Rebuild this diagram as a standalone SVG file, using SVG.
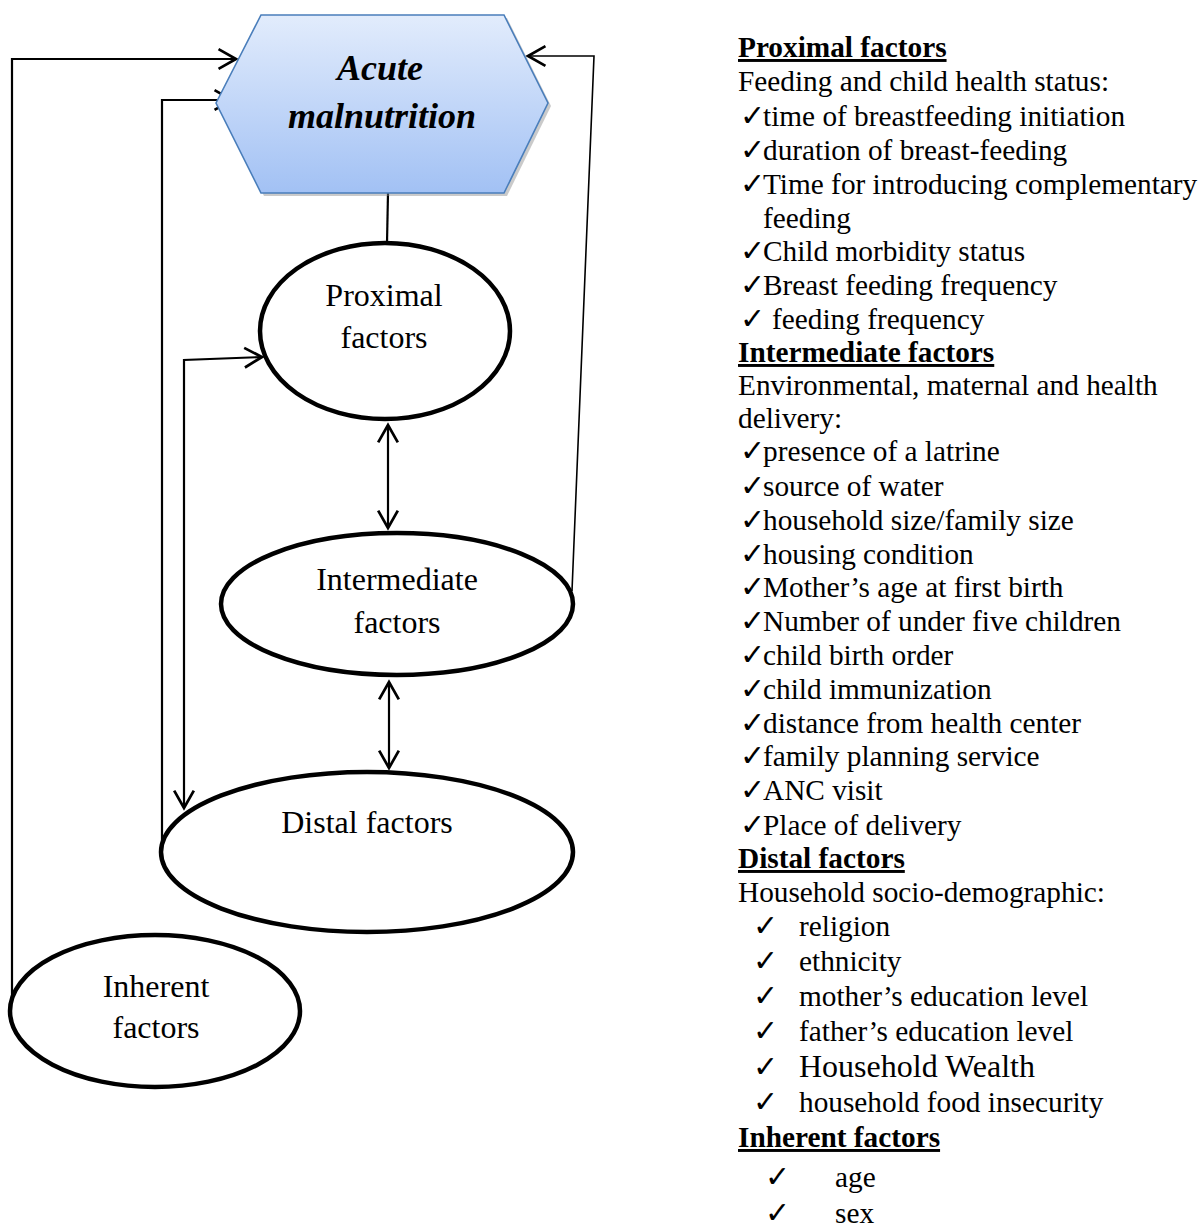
<svg xmlns="http://www.w3.org/2000/svg" width="1201" height="1229" viewBox="0 0 1201 1229">
<style>
.node{fill:#fff;stroke:#000;stroke-width:4.5}
.lbl{font-family:"Liberation Serif","Times New Roman",serif;font-size:32px;fill:#000;text-anchor:middle}
.hex{font-family:"Liberation Serif","Times New Roman",serif;font-size:36px;font-weight:bold;font-style:italic;fill:#000;text-anchor:middle}
.con{fill:none;stroke:#000;stroke-width:2.2}
.t{font-family:"Liberation Serif","Times New Roman",serif;font-size:29.3px;fill:#000}
.h{font-family:"Liberation Serif","Times New Roman",serif;font-size:29.3px;font-weight:bold;fill:#000;text-decoration:underline}
.ck{font-family:"DejaVu Sans",sans-serif;font-size:30px;fill:#000}
</style>
<defs>
<linearGradient id="hg" x1="0" y1="0" x2="0" y2="1">
<stop offset="0" stop-color="#e2ecfc"/>
<stop offset="1" stop-color="#a2c1f4"/>
</linearGradient>
<marker id="ah" markerUnits="userSpaceOnUse" markerWidth="24" markerHeight="24" viewBox="-18 -11 20 22" refX="0" refY="0" orient="auto-start-reverse">
<path d="M-16,-9 L0,0 L-16,9" fill="none" stroke="#000" stroke-width="2.5"/>
</marker>
</defs>
<g id="connectors">
<polyline class="con" points="12,998 12,59 236,59" marker-end="url(#ah)"/>
<polyline class="con" points="162,840 162,100 232,100" marker-end="url(#ah)"/>
<polyline class="con" points="184,808 184,360 262,357" marker-start="url(#ah)" marker-end="url(#ah)"/>
<polyline class="con" style="stroke-width:1.6" points="572,591 594,56 528,56" marker-end="url(#ah)"/>
<line class="con" x1="388" y1="193" x2="387" y2="243"/>
<line class="con" x1="388" y1="425" x2="388" y2="528" marker-start="url(#ah)" marker-end="url(#ah)"/>
<line class="con" x1="389" y1="682" x2="389" y2="768" marker-start="url(#ah)" marker-end="url(#ah)"/>
</g>
<g id="acute-malnutrition">
<polygon points="219,106 264,18 507,18 551,106 507,196 264,196" fill="#8a8a8a" opacity="0.45"/>
<polygon points="216,103 261,15 504,15 548,103 504,193 261,193" fill="url(#hg)" stroke="#4a7ebb" stroke-width="1.6"/>
<text class="hex" x="380" y="80">Acute</text>
<text class="hex" x="382" y="128">malnutrition</text>
</g>
<g id="proximal">
<ellipse class="node" cx="385" cy="331" rx="125" ry="88"/>
<text class="lbl" x="384" y="306">Proximal</text>
<text class="lbl" x="384" y="348">factors</text>
</g>
<g id="intermediate">
<ellipse class="node" cx="397" cy="604" rx="176" ry="71"/>
<text class="lbl" x="397" y="590">Intermediate</text>
<text class="lbl" x="397" y="633">factors</text>
</g>
<g id="distal">
<ellipse class="node" cx="367" cy="852" rx="206" ry="80"/>
<text class="lbl" x="367" y="833">Distal factors</text>
</g>
<g id="inherent">
<ellipse class="node" cx="155" cy="1011" rx="145" ry="76"/>
<text class="lbl" x="156" y="997">Inherent</text>
<text class="lbl" x="156" y="1038">factors</text>
</g>
<g id="factor-list">
<text class="h" x="738" y="57">Proximal factors</text>
<text class="t" x="738" y="91">Feeding and child health status:</text>
<text class="ck" x="740" y="126">✓</text><text class="t" x="763" y="126">time of breastfeeding initiation</text>
<text class="ck" x="740" y="160">✓</text><text class="t" x="763" y="160">duration of breast-feeding</text>
<text class="ck" x="740" y="194">✓</text><text class="t" x="763" y="194">Time for introducing complementary</text>
<text class="t" x="763" y="228">feeding</text>
<text class="ck" x="740" y="261">✓</text><text class="t" x="763" y="261">Child morbidity status</text>
<text class="ck" x="740" y="295">✓</text><text class="t" x="763" y="295">Breast feeding frequency</text>
<text class="ck" x="740" y="329">✓</text><text class="t" x="772" y="329">feeding frequency</text>
<text class="h" x="738" y="362">Intermediate factors</text>
<text class="t" x="738" y="395">Environmental, maternal and health</text>
<text class="t" x="738" y="428">delivery:</text>
<text class="ck" x="740" y="461">✓</text><text class="t" x="763" y="461">presence of a latrine</text>
<text class="ck" x="740" y="496">✓</text><text class="t" x="763" y="496">source of water</text>
<text class="ck" x="740" y="530">✓</text><text class="t" x="763" y="530">household size/family size</text>
<text class="ck" x="740" y="564">✓</text><text class="t" x="763" y="564">housing condition</text>
<text class="ck" x="740" y="597">✓</text><text class="t" x="763" y="597">Mother’s age at first birth</text>
<text class="ck" x="740" y="631">✓</text><text class="t" x="763" y="631">Number of under five children</text>
<text class="ck" x="740" y="665">✓</text><text class="t" x="763" y="665">child birth order</text>
<text class="ck" x="740" y="699">✓</text><text class="t" x="763" y="699">child immunization</text>
<text class="ck" x="740" y="733">✓</text><text class="t" x="763" y="733">distance from health center</text>
<text class="ck" x="740" y="766">✓</text><text class="t" x="763" y="766">family planning service</text>
<text class="ck" x="740" y="800">✓</text><text class="t" x="763" y="800">ANC visit</text>
<text class="ck" x="740" y="835">✓</text><text class="t" x="763" y="835">Place of delivery</text>
<text class="h" x="738" y="868">Distal factors</text>
<text class="t" x="738" y="902">Household socio-demographic:</text>
<text class="ck" x="753" y="936">✓</text><text class="t" x="799" y="936">religion</text>
<text class="ck" x="753" y="971">✓</text><text class="t" x="799" y="971">ethnicity</text>
<text class="ck" x="753" y="1006">✓</text><text class="t" x="799" y="1006">mother’s education level</text>
<text class="ck" x="753" y="1041">✓</text><text class="t" x="799" y="1041">father’s education level</text>
<text class="ck" x="753" y="1077">✓</text><text class="t" x="799" y="1077" style="font-size:32px">Household Wealth</text>
<text class="ck" x="753" y="1112">✓</text><text class="t" x="799" y="1112">household food insecurity</text>
<text class="h" x="738" y="1147">Inherent factors</text>
<text class="ck" x="765" y="1187">✓</text><text class="t" x="835" y="1187">age</text>
<text class="ck" x="765" y="1223">✓</text><text class="t" x="835" y="1223">sex</text>
</g>
</svg>
